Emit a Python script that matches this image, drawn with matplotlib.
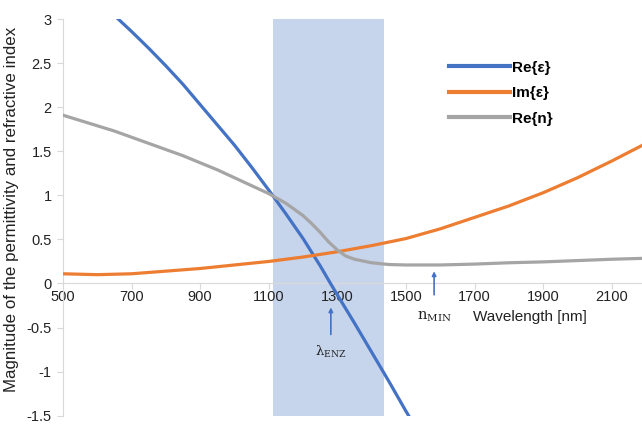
import matplotlib
matplotlib.use("Agg")
import matplotlib.pyplot as plt

plt.rcParams['font.family'] = ['Liberation Sans', 'DejaVu Sans']

# Data
wl_re_eps = [645, 700, 750, 800, 850, 900, 950, 1000, 1050, 1100, 1150, 1200, 1250, 1280,
             1300, 1350, 1400, 1450, 1500, 1520]
re_eps = [3.06, 2.86, 2.67, 2.47, 2.26, 2.03, 1.80, 1.57, 1.32, 1.06, 0.79, 0.51, 0.20, 0.00,
          -0.13, -0.45, -0.78, -1.11, -1.45, -1.58]

wl_im_eps = [500, 600, 700, 800, 900, 1000, 1100, 1200, 1300, 1400, 1500, 1600, 1700, 1800,
             1900, 2000, 2100, 2190]
im_eps = [0.11, 0.10, 0.11, 0.14, 0.17, 0.21, 0.25, 0.30, 0.36, 0.43, 0.51, 0.62, 0.75, 0.88,
          1.03, 1.20, 1.39, 1.57]

wl_re_n = [500, 550, 600, 650, 700, 750, 800, 850, 900, 950, 1000, 1050, 1100, 1150, 1200,
           1225, 1250, 1275, 1300, 1325, 1350, 1400, 1450, 1500, 1600, 1700, 1800, 1900,
           2000, 2100, 2190]
re_n = [1.91, 1.85, 1.79, 1.73, 1.66, 1.59, 1.52, 1.45, 1.37, 1.29, 1.20, 1.11, 1.02, 0.91,
        0.77, 0.68, 0.58, 0.47, 0.38, 0.31, 0.275, 0.235, 0.215, 0.21, 0.21, 0.22, 0.235,
        0.245, 0.26, 0.275, 0.285]

enz_band = (1112, 1436)
lambda_enz = 1281
n_min = 1582

x_ticks = [500, 700, 900, 1100, 1300, 1500, 1700, 1900, 2100]
y_ticks = [-1.5, -1, -0.5, 0, 0.5, 1, 1.5, 2, 2.5, 3]

fig = plt.figure(figsize=(6.42, 4.25), dpi=100)
ax = fig.add_axes([0.098, 0.022, 0.902, 0.933])

ax.axvspan(enz_band[0], enz_band[1], color='#C6D4EC', zorder=0, lw=0)

ax.plot(wl_re_eps, re_eps, color='#4472C4', lw=2.3, label='Re{ε}', zorder=3)
ax.plot(wl_im_eps, im_eps, color='#ED7D31', lw=2.3, label='Im{ε}', zorder=3)
ax.plot(wl_re_n, re_n, color='#A5A5A5', lw=2.3, label='Re{n}', zorder=3)

ax.set_xlim(500, 2188)
ax.set_ylim(-1.5, 3)
ax.set_xticks(x_ticks)
ax.set_yticks(y_ticks)
ax.set_yticklabels([('%g' % v) for v in y_ticks])

for s in ['top', 'right']:
    ax.spines[s].set_visible(False)
ax.spines['bottom'].set_position(('data', 0))
ax.spines['bottom'].set_color('#D9D9D9')
ax.spines['left'].set_color('#D9D9D9')
ax.tick_params(axis='both', colors='#D9D9D9', labelcolor='#222222', labelsize=10.5,
               length=4, width=0.8)
ax.tick_params(axis='x', pad=1)
ax.tick_params(axis='y', pad=4)

ax.set_ylabel('Magnitude of the permittivity and refractive index', fontsize=12.2,
              color='#222222')
ax.yaxis.set_label_coords(-0.075, 0.52)

ax.text(1861, -0.38, 'Wavelength [nm]', fontsize=11, ha='center', va='center', color='#222222')
ax.annotate('', xy=(n_min, 0.17), xytext=(n_min, -0.16),
            arrowprops=dict(arrowstyle='-|>', color='#4472C4', lw=1.2, mutation_scale=6))
ax.text(n_min, -0.38, r'n$_{\mathregular{MIN}}$', fontsize=10.5, ha='center', va='center',
        color='#222222', family=['DejaVu Serif'])
ax.annotate('', xy=(lambda_enz, -0.24), xytext=(lambda_enz, -0.61),
            arrowprops=dict(arrowstyle='-|>', color='#4472C4', lw=1.2, mutation_scale=6))
ax.text(lambda_enz, -0.78, r'λ$_{\mathregular{ENZ}}$', fontsize=9.5, ha='center', va='center',
        color='#222222', family=['DejaVu Serif'])

leg = ax.legend(loc='upper left', bbox_to_anchor=(435 / 642, 1 - 47 / 425),
                bbox_transform=fig.transFigure, frameon=False, handlelength=4.0,
                handletextpad=0.15, labelspacing=0.75, prop={'weight': 'bold', 'size': 11})
for line in leg.get_lines():
    line.set_linewidth(3)

fig.savefig('out.png', dpi=100)
